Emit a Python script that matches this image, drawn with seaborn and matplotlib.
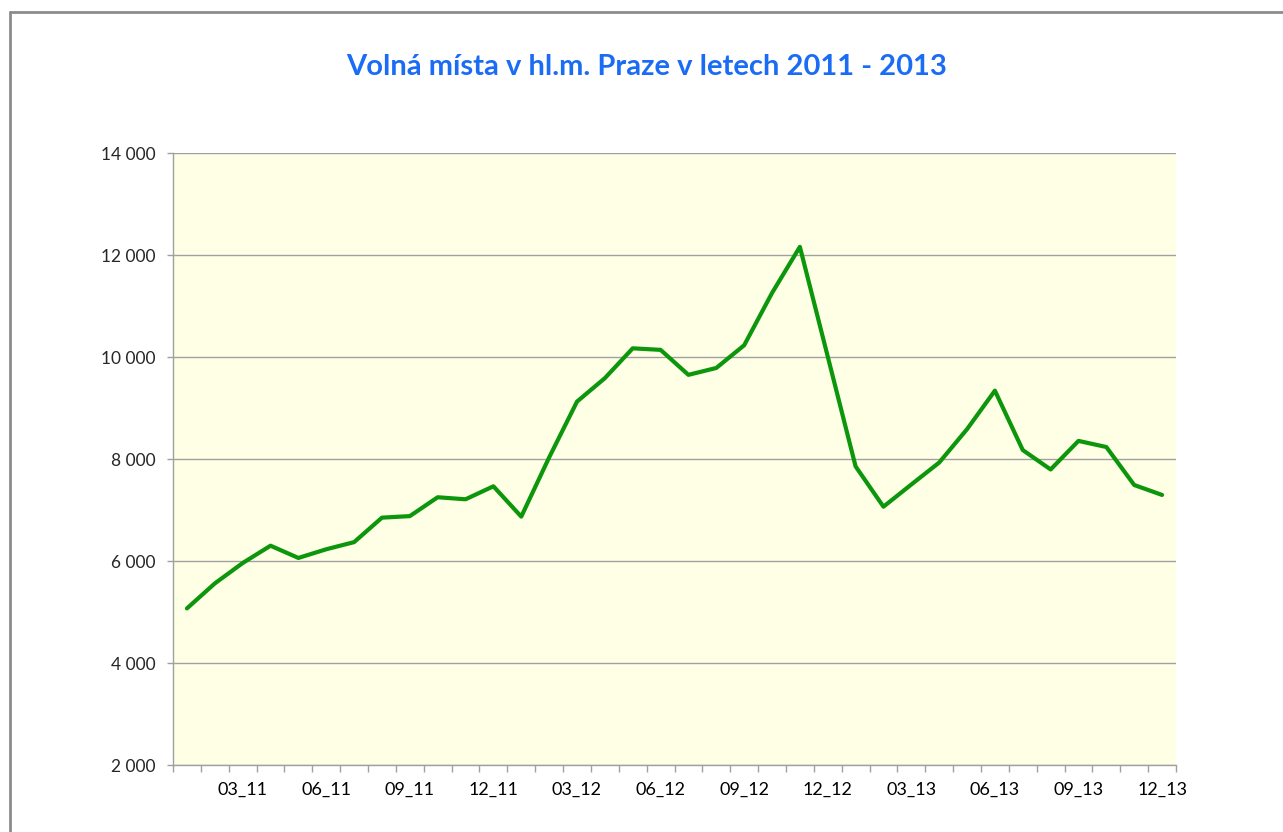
import numpy as np
import pandas as pd
import matplotlib.pyplot as plt
import seaborn as sns
from matplotlib.ticker import FuncFormatter, FixedLocator
from matplotlib.lines import Line2D

# monthly labels 01_11 .. 12_13
months = [f"{m:02d}_{y}" for y in (11, 12, 13) for m in range(1, 13)]

# vacancies (volna mista)
vacancies = [
    5070, 5560, 5960, 6300, 6060, 6230, 6370, 6850, 6880, 7250, 7210, 7465,
    6870, 8030, 9125, 9585, 10170, 10140, 9650, 9785, 10230, 11255, 12160, 10010,
    7855, 7065, 7500, 7930, 8585, 9340, 8175, 7795, 8355, 8235, 7490, 7295,
]

yticks = [2000, 4000, 6000, 8000, 10000, 12000, 14000]
title = "Volná místa v hl.m. Praze v letech 2011 - 2013"

df = pd.DataFrame({"Mesic": months, "Volna mista": vacancies})

sns.set_style("white")
plt.rcParams['font.family'] = ['Lato', 'DejaVu Sans']

fig = plt.figure(figsize=(12.83, 8.32), dpi=100)
ax = fig.add_axes([173 / 1283, 67 / 832, 1003 / 1283, 612 / 832])

# outer chart border (left and top visible only)
fig.add_artist(Line2D([9.5 / 1283, 9.5 / 1283], [0, 1 - 11.5 / 832],
                      transform=fig.transFigure, color="#8c8c8c", lw=2))
fig.add_artist(Line2D([9.5 / 1283, 1], [1 - 11.5 / 832, 1 - 11.5 / 832],
                      transform=fig.transFigure, color="#8c8c8c", lw=2))

ax.set_facecolor("#FFFFE6")
sns.lineplot(data=df, x="Mesic", y="Volna mista", ax=ax, color="#0c960c",
             linewidth=3, sort=False)

ax.set_xlim(-0.5, len(months) - 0.5)
ax.set_ylim(2000, 14000)
ax.set_yticks(yticks)
ax.yaxis.set_major_formatter(FuncFormatter(lambda v, p: f"{int(v):,}".replace(",", " ")))
ax.grid(axis="y", color="#a0a0a0", linewidth=1)
ax.set_axisbelow(True)

# category ticks between months, labels every third month
label_pos = list(range(2, len(months), 3))
ax.set_xticks(label_pos)
ax.set_xticklabels([months[i] for i in label_pos])
ax.xaxis.set_minor_locator(FixedLocator(np.arange(-0.5, len(months), 1)))
ax.tick_params(axis="x", which="major", length=0, pad=12, labelsize=13, colors="#000000")
ax.tick_params(axis="x", which="minor", length=5, width=1, color="#a0a0a0", bottom=True)
ax.tick_params(axis="y", length=4.3, width=1, color="#a0a0a0", pad=8, labelsize=12.5, left=True)

for side in ("top", "right"):
    ax.spines[side].set_visible(False)
for side in ("left", "bottom"):
    ax.spines[side].set_color("#a0a0a0")
    ax.spines[side].set_linewidth(1)

ax.set_xlabel("")
ax.set_ylabel("")

fig.text(647 / 1283, 1 - 67 / 832, title, ha="center", va="center",
         fontsize=21, fontweight="bold", color="#1a6cf5")

fig.savefig("out.png", dpi=100)
